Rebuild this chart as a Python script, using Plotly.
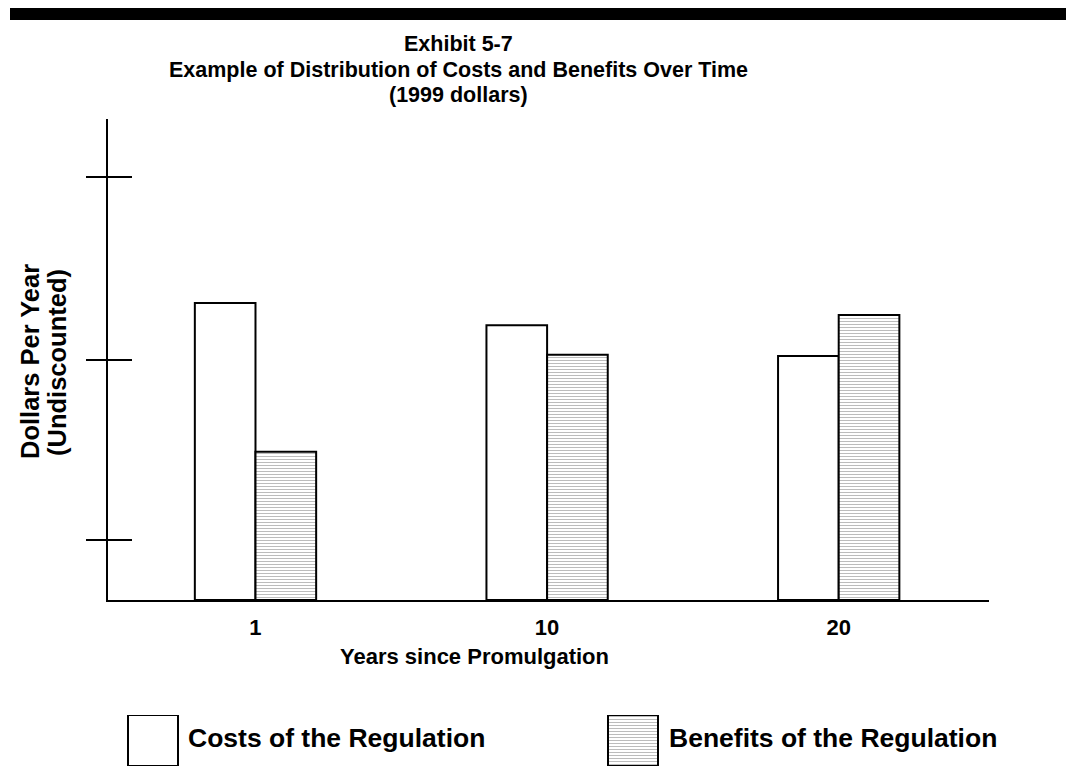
import plotly.graph_objects as go

# ---- data ----
years = ["1", "10", "20"]
costs = [4.95, 4.58, 4.07]
benefits = [2.47, 4.09, 4.75]
y_ticks = [1, 4, 7.05]
series_names = ["Costs of the Regulation", "Benefits of the Regulation"]

W, H = 1075, 769
OFF = 8  # page body margin
FONT = "Liberation Sans, Arial, sans-serif"

def px_x(v):
    return (v - OFF) / W

def px_y(v):
    return (H - (v - OFF)) / H

hatch = dict(shape="-", fgcolor="#7a7a7a", bgcolor="white", size=3, solidity=0.35)

fig = go.Figure()
fig.add_trace(go.Bar(x=years, y=costs, name=series_names[0],
                     marker=dict(color="white", line=dict(color="black", width=2)),
                     showlegend=False))
fig.add_trace(go.Bar(x=years, y=benefits, name=series_names[1],
                     marker=dict(color="white", pattern=hatch,
                                 line=dict(color="black", width=2)),
                     showlegend=False))
# dummy trace on overlay axis (for crossing tick marks)
fig.add_trace(go.Scatter(x=years[:1], y=[None], yaxis="y2", showlegend=False,
                         hoverinfo="skip"))

# legend swatches on a small helper subplot (x in screen px)
fig.add_trace(go.Bar(x=[153], y=[1], width=[50], xaxis="x2", yaxis="y3",
                     marker=dict(color="white", line=dict(color="black", width=2)),
                     showlegend=False, hoverinfo="skip"))
fig.add_trace(go.Bar(x=[633], y=[1], width=[50], xaxis="x2", yaxis="y3",
                     marker=dict(color="white", pattern=hatch,
                                 line=dict(color="black", width=2)),
                     showlegend=False, hoverinfo="skip"))

xdom = [px_x(108), px_x(989)]
ydom = [px_y(600), px_y(119)]

fig.update_layout(
    width=W, height=H,
    margin=dict(l=0, r=0, t=0, b=0),
    paper_bgcolor="white", plot_bgcolor="white",
    barmode="group", bargap=0.584, bargroupgap=0,
    font=dict(family=FONT, color="black"),
    xaxis=dict(domain=xdom, type="category", range=[-0.5058, 2.5154],
               showline=True, linecolor="black", linewidth=2,
               showgrid=False, zeroline=False, ticks="",
               tickfont=dict(size=22, family=FONT, weight="bold"),
               ticklabelstandoff=7, anchor="y"),
    yaxis=dict(domain=ydom, range=[0, 8.02], showline=True, linecolor="black",
               linewidth=2, showgrid=False, zeroline=False,
               ticks="outside", ticklen=20, tickwidth=2, tickcolor="black",
               tickvals=y_ticks, showticklabels=False, anchor="x"),
    yaxis2=dict(domain=ydom, range=[0, 8.02], overlaying="y", side="left",
                anchor="x", showline=False, showgrid=False, zeroline=False,
                ticks="inside", ticklen=24, tickwidth=2, tickcolor="black",
                tickvals=y_ticks, showticklabels=False),
    xaxis2=dict(domain=[0, 1], range=[OFF, W + OFF], visible=False, anchor="y3"),
    yaxis3=dict(domain=[px_y(766), px_y(715)], range=[0, 1], visible=False,
                anchor="x2"),
)

# top black bar
fig.add_shape(type="rect", xref="paper", yref="paper",
              x0=px_x(10), x1=px_x(1066), y0=px_y(20), y1=px_y(7),
              fillcolor="black", line=dict(width=0))

bold = dict(family=FONT, size=21.5, color="black", weight="bold")
titles = [("Exhibit 5-7", 44), ("Example of Distribution of Costs and Benefits Over Time", 70),
          ("(1999 dollars)", 95)]
for t, yy in titles:
    fig.add_annotation(text=t, xref="paper", yref="paper", x=px_x(458), y=px_y(yy),
                       xanchor="center", yanchor="middle", showarrow=False, font=bold)

fig.add_annotation(text="Years since Promulgation", xref="paper", yref="paper",
                   x=px_x(474), y=px_y(656), xanchor="center", yanchor="middle",
                   showarrow=False, font=dict(bold, size=22))
for t, xx in [("Dollars Per Year", 30), ("(Undiscounted)", 57)]:
    fig.add_annotation(text=t, xref="paper", yref="paper",
                       x=px_x(xx), y=px_y(362), xanchor="center", yanchor="middle",
                       textangle=-90, showarrow=False, font=dict(bold, size=25.5))

fig.add_annotation(text=series_names[0], xref="paper", yref="paper",
                   x=px_x(186), y=px_y(738), xanchor="left", yanchor="middle",
                   showarrow=False, font=dict(bold, size=26.5))
fig.add_annotation(text=series_names[1], xref="paper", yref="paper",
                   x=px_x(667), y=px_y(738), xanchor="left", yanchor="middle",
                   showarrow=False, font=dict(bold, size=26.5))

fig.write_html("out.html")
